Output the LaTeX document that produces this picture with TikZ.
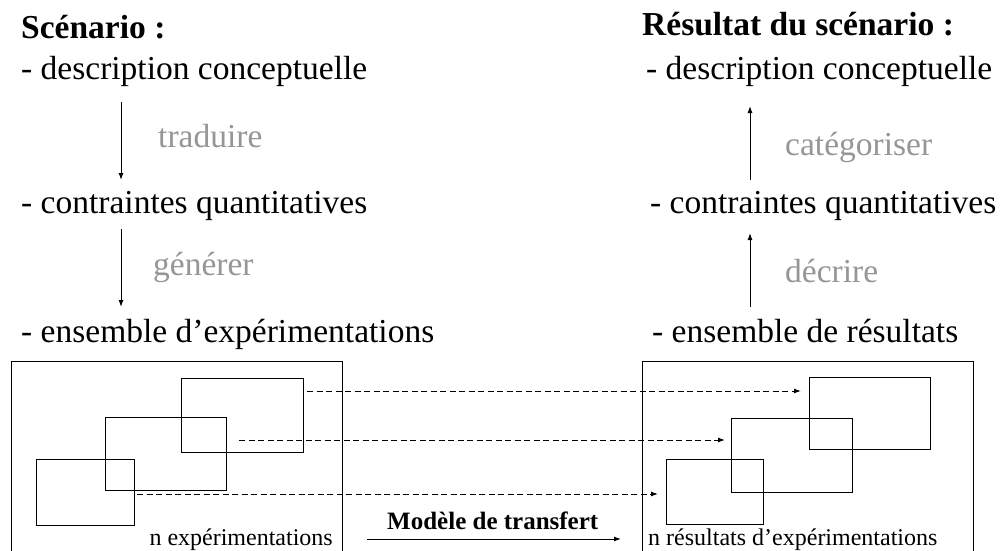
\documentclass[tikz,border=0pt]{standalone}
\usepackage{fontspec}
\setmainfont{Liberation Serif}
\usetikzlibrary{arrows.meta}
\definecolor{lblgray}{RGB}{150,150,150}
\tikzset{
  txt/.style={inner sep=0pt, anchor=base west, font=\fontsize{33.5}{40}\selectfont},
  ttl/.style={txt, font=\fontsize{33.5}{40}\selectfont\bfseries},
  verb/.style={txt, text=lblgray},
  small/.style={inner sep=0pt, font=\fontsize{24}{28}\selectfont},
  rect/.style={draw, line width=1.3pt, minimum width=#1, inner sep=0pt, anchor=north west},
  flow/.style={line width=1pt, -{Latex[length=7pt,width=5pt]}},
  dasharr/.style={line width=1pt, dash pattern=on 6pt off 3.5pt, -{Latex[length=7pt,width=5pt]}},
}
\begin{document}
\begin{tikzpicture}[x=1pt,y=-1pt]
\clip (0,0) rectangle (1001,551);
\fill[white] (0,0) rectangle (1001,551);
% left column
\node[ttl] (s0) at (21,39) {Scénario :};
\node[txt] (s1) at (21,79) {- description conceptuelle};
\node[txt] (s2) at (21,213) {- contraintes quantitatives};
\node[txt] (s3) at (21,342) {- ensemble d’expérimentations};
\node[verb] (v1) at (158,147) {traduire};
\node[verb] (v2) at (153,275) {générer};
\coordinate (a1s) at (121,102);
\coordinate (a1e) at (121,180);
\coordinate (a2s) at (121,229);
\coordinate (a2e) at (121,307);
\draw[flow] (a1s) -- (a1e);
\draw[flow] (a2s) -- (a2e);
% right column
\node[ttl] (r0) at (642,36) {Résultat du scénario :};
\node[txt] (r1) at (646,79) {- description conceptuelle};
\node[txt] (r2) at (650,213) {- contraintes quantitatives};
\node[txt] (r3) at (652,342) {- ensemble de résultats};
\node[verb] (v3) at (785,155) {catégoriser};
\node[verb] (v4) at (785,282) {décrire};
\coordinate (b1s) at (750,180);
\coordinate (b1e) at (750,106);
\coordinate (b2s) at (750,307);
\coordinate (b2e) at (750,233);
\draw[flow] (b1s) -- (b1e);
\draw[flow] (b2s) -- (b2e);
% outer boxes
\node[rect=331pt, minimum height=200pt] (LO) at (11,361) {};
\node[rect=331pt, minimum height=200pt] (RO) at (642,361) {};
% left inner rectangles
\node[rect=122pt, minimum height=74pt] (LA) at (181,378) {};
\node[rect=121pt, minimum height=73pt] (LB) at (105,417) {};
\node[rect=98pt, minimum height=66pt] (LC) at (36,459) {};
% right inner rectangles
\node[rect=121pt, minimum height=72pt] (RA) at (809,377) {};
\node[rect=121pt, minimum height=74pt] (RB) at (731,418) {};
\node[rect=97pt, minimum height=65pt] (RC) at (666,459) {};
% dashed transfers
\coordinate (d1s) at (307,391); \coordinate (d1e) at (801,391);
\coordinate (d2s) at (239,440); \coordinate (d2e) at (725,440);
\coordinate (d3s) at (137,494); \coordinate (d3e) at (658,494);
\draw[dasharr] (d1s) -- (d1e);
\draw[dasharr] (d2s) -- (d2e);
\draw[dasharr] (d3s) -- (d3e);
% captions
\node[small, anchor=base east] (ln) at (333,545) {n expérimentations};
\node[small, anchor=base west] (rn) at (648,545) {n résultats d’expérimentations};
% transfer model arrow
\node[inner sep=0pt, anchor=base west, font=\fontsize{25}{30}\selectfont\bfseries] (mt) at (387,529) {Modèle de transfert};
\coordinate (ms) at (367,539);
\coordinate (me) at (621,539);
\draw[flow] (ms) -- (me);
\end{tikzpicture}
\end{document}
